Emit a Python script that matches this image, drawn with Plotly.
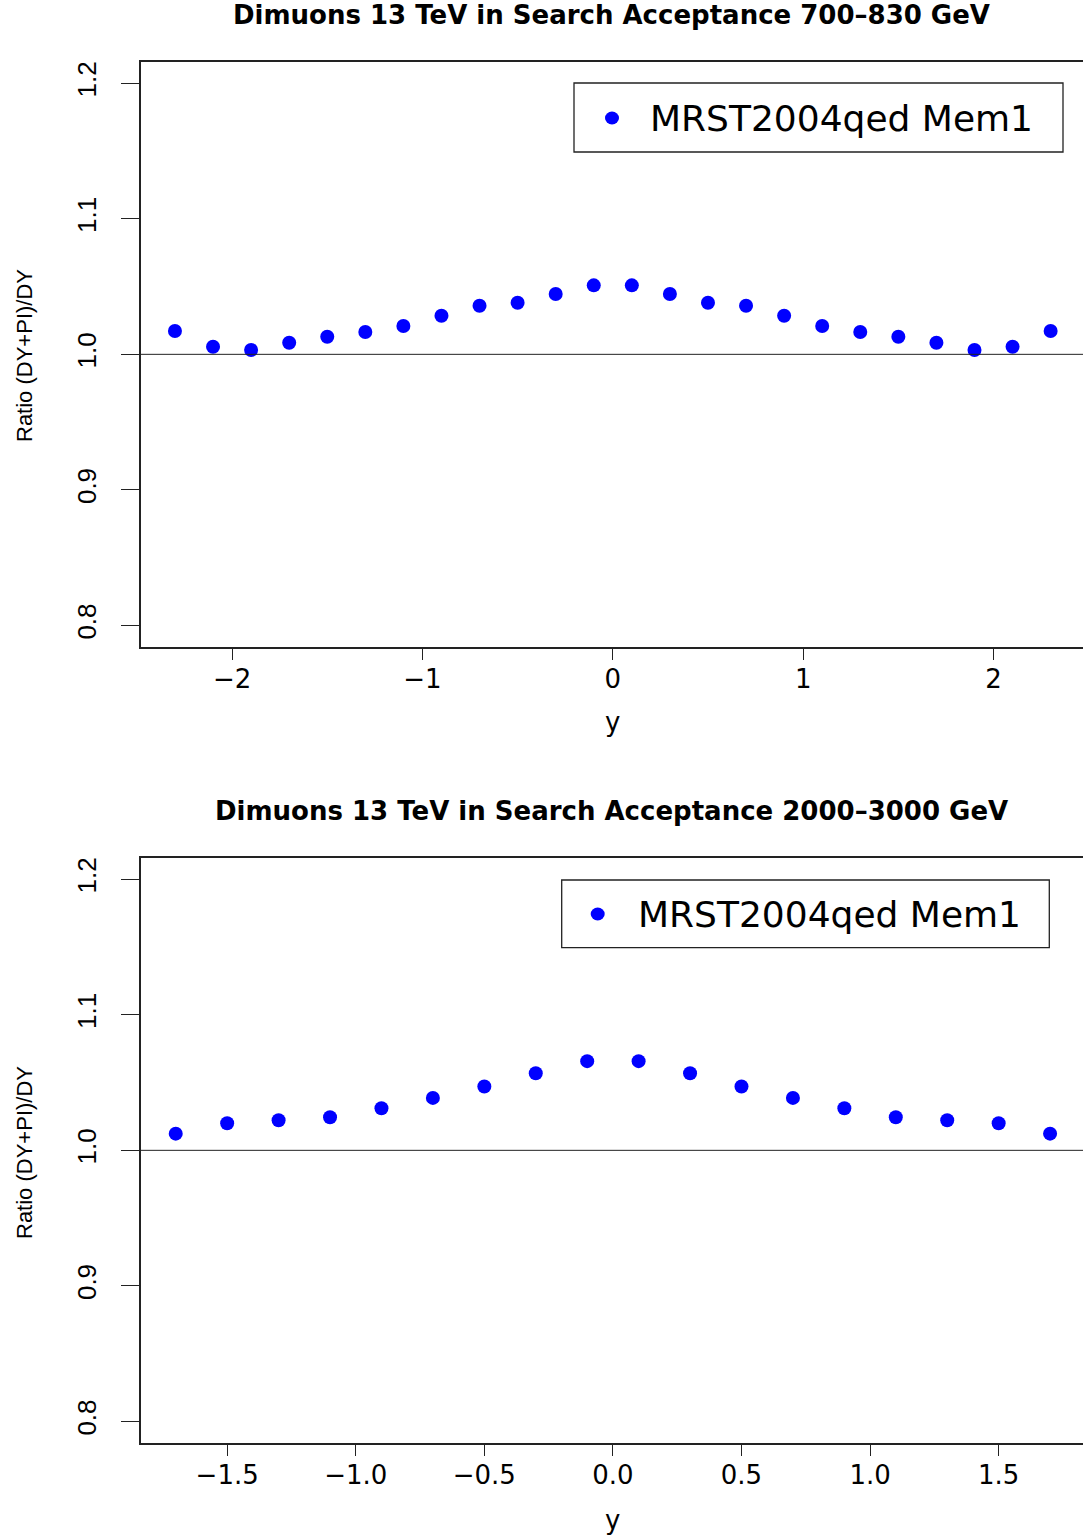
import plotly.graph_objects as go

# ---- data ----
y_top = [-2.3, -2.1, -1.9, -1.7, -1.5, -1.3, -1.1, -0.9, -0.7, -0.5, -0.3, -0.1,
         0.1, 0.3, 0.5, 0.7, 0.9, 1.1, 1.3, 1.5, 1.7, 1.9, 2.1, 2.3]
ratio_top = [1.0172, 1.0056, 1.0032, 1.0086, 1.0130, 1.0165, 1.0209, 1.0285, 1.0359, 1.0381, 1.0445, 1.0509,
             1.0509, 1.0445, 1.0381, 1.0359, 1.0285, 1.0209, 1.0165, 1.0130, 1.0086, 1.0032, 1.0056, 1.0172]

y_bot = [-1.7, -1.5, -1.3, -1.1, -0.9, -0.7, -0.5, -0.3, -0.1,
         0.1, 0.3, 0.5, 0.7, 0.9, 1.1, 1.3, 1.5, 1.7]
ratio_bot = [1.0123, 1.0200, 1.0222, 1.0244, 1.0311, 1.0387, 1.0471, 1.0569, 1.0658,
             1.0658, 1.0569, 1.0471, 1.0387, 1.0311, 1.0244, 1.0222, 1.0200, 1.0123]

titles = ["Dimuons 13 TeV in Search Acceptance 700\u2013830 GeV",
          "Dimuons 13 TeV in Search Acceptance 2000\u20133000 GeV"]
series_name = "MRST2004qed Mem1"
y_label = "Ratio (DY+PI)/DY"
x_label = "y"
ytick_vals = [0.8, 0.9, 1.0, 1.1, 1.2]
xtick_top = [-2, -1, 0, 1, 2]
xtick_bot = [-1.5, -1.0, -0.5, 0.0, 0.5, 1.0, 1.5]

W, H = 1083, 1539
def px(x):
    return x / W
def py(y):
    return 1 - y / H

BLUE = "#0000ff"
fig = go.Figure()
fig.add_trace(go.Scatter(x=y_top, y=ratio_top, mode="markers", name=series_name,
                         marker=dict(color=BLUE, size=14, line=dict(width=0)),
                         xaxis="x", yaxis="y", showlegend=False))
fig.add_trace(go.Scatter(x=y_bot, y=ratio_bot, mode="markers", name=series_name,
                         marker=dict(color=BLUE, size=14, line=dict(width=0)),
                         xaxis="x2", yaxis="y2", showlegend=False))

xfont = dict(family="DejaVu Sans", size=26, color="black")
yfont = dict(family="Liberation Sans", size=26, color="black")

common_x = dict(showgrid=False, zeroline=False, showline=True, mirror=True,
                linecolor="#222222", linewidth=1.5, ticks="outside", ticklen=12,
                tickwidth=1.3, tickcolor="#222222", tickfont=xfont,
                ticklabelstandoff=-4)
common_y = dict(showgrid=False, zeroline=False, showline=True, mirror=False,
                linecolor="#222222", linewidth=1.5, ticks="outside", ticklen=18,
                tickwidth=1.3, tickcolor="#222222", tickfont=yfont,
                tickvals=ytick_vals, tickformat=".1f", tickangle=-90,
                ticklabelstandoff=14, range=[0.7843, 1.2159])

x_dom = [140.5 / W, 1.0]
fig.update_layout(
    width=W, height=H, margin=dict(l=0, r=0, t=0, b=0),
    paper_bgcolor="white", plot_bgcolor="white", showlegend=False,
    xaxis=dict(common_x, domain=x_dom, range=[-2.481, 2.470], tickvals=xtick_top,
               tickformat="d", anchor="y"),
    yaxis=dict(common_y, domain=[py(646.7), py(61.7)], anchor="x"),
    xaxis2=dict(common_x, domain=x_dom, range=[-1.837, 1.828], tickvals=xtick_bot,
                tickformat=".1f", anchor="y2"),
    yaxis2=dict(common_y, domain=[py(1442.7), py(857.7)], anchor="x2"),
)

# reference line at ratio = 1
for xr, yr in [("x domain", "y"), ("x2 domain", "y2")]:
    fig.add_shape(type="line", xref=xr, yref=yr, x0=0, x1=1, y0=1.0, y1=1.0,
                  line=dict(color="#222222", width=1))

# titles
for t, yc in zip(titles, [15, 811]):
    fig.add_annotation(text="<b>%s</b>" % t, x=px(611), y=py(yc), xref="paper", yref="paper",
                       xanchor="center", yanchor="middle", showarrow=False,
                       font=dict(family="DejaVu Sans", size=26, color="black"))

# axis titles
for yc_lab, yc_x in [(356, 722), (1153, 1520)]:
    fig.add_annotation(text=y_label, x=px(24), y=py(yc_lab), xref="paper", yref="paper",
                       xanchor="center", yanchor="middle", showarrow=False, textangle=-90,
                       font=dict(family="Liberation Sans", size=22, color="black"))
    fig.add_annotation(text=x_label, x=px(612), y=py(yc_x), xref="paper", yref="paper",
                       xanchor="center", yanchor="middle", showarrow=False,
                       font=dict(family="DejaVu Sans", size=26, color="black"))

# legend boxes (drawn manually)
for (bx0, by0, bx1, by1, mx, my, tx) in [(574, 83, 1063, 152, 612, 118, 648),
                                         (561.7, 880, 1049.3, 947.7, 597.7, 914, 635.5)]:
    fig.add_shape(type="rect", xref="paper", yref="paper",
                  x0=px(bx0), x1=px(bx1), y0=py(by1), y1=py(by0),
                  line=dict(color="#222222", width=1.3), fillcolor="white", layer="above")
    fig.add_shape(type="circle", xref="paper", yref="paper",
                  x0=px(mx - 7), x1=px(mx + 7), y0=py(my + 6.5), y1=py(my - 6.5),
                  line=dict(width=0), fillcolor=BLUE, layer="above")
    fig.add_annotation(text=series_name, x=px(tx), y=py(my), xref="paper", yref="paper",
                       xanchor="left", yanchor="middle", showarrow=False,
                       font=dict(family="DejaVu Sans", size=36, color="black"))

fig.write_html("out.html", config={"displayModeBar": False},
               post_script="document.body.style.margin='0';")
